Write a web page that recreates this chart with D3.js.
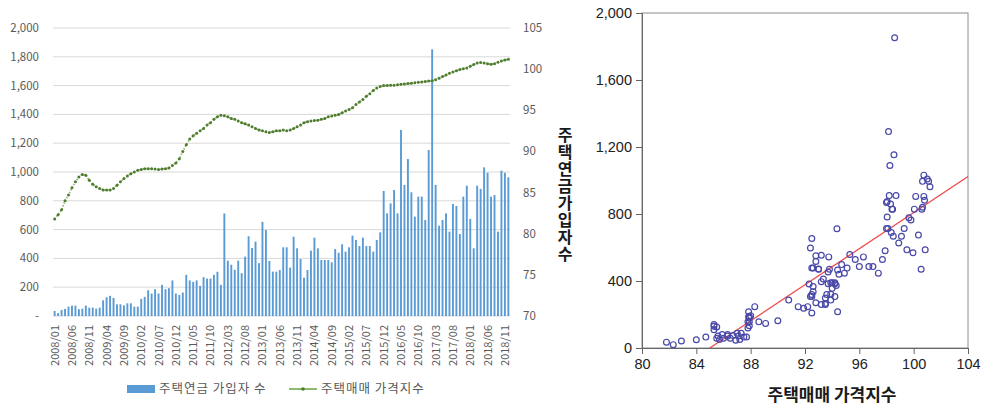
<!DOCTYPE html>
<html><head><meta charset="utf-8">
<script src="https://cdn.jsdelivr.net/npm/d3@7"></script>
<style>
html,body{margin:0;padding:0;background:#fff;}
svg{display:block;}
</style></head>
<body>
<svg id="chart" width="985" height="407"></svg>
<script>
// ---------- DATA ----------
const startYear = 2008;
const monthCount = 132;
const months = d3.range(monthCount).map(i => `${startYear + Math.floor(i / 12)}/${String(i % 12 + 1).padStart(2, "0")}`);
const tickLabels = ["2008/01","2008/06","2008/11","2009/04","2009/09","2010/02","2010/07","2010/12","2011/05","2011/10","2012/03","2012/08","2013/01","2013/06","2013/11","2014/04","2014/09","2015/02","2015/07","2015/12","2016/05","2016/10","2017/03","2017/08","2018/01","2018/06","2018/11"];

// 주택연금 가입자 수 (monthly)
const subscribers = [
  35, 20, 42, 49, 65, 72, 72, 47, 51, 72, 58, 58,
  51, 58, 109, 130, 140, 126, 81, 81, 74, 88, 88, 65,
  65, 119, 133, 179, 156, 186, 156, 216, 186, 193, 247, 156,
  147, 163, 286, 247, 237, 247, 209, 270, 260, 260, 286, 307,
  216, 712, 384, 356, 321, 384, 298, 412, 554, 472, 516, 367,
  654, 597, 382, 308, 308, 319, 477, 477, 336, 551, 470, 396,
  266, 319, 454, 544, 470, 389, 389, 389, 373, 465, 440, 498,
  447, 477, 558, 528, 486, 544, 486, 486, 447, 528, 581, 868,
  713, 782, 875, 713, 1292, 910, 1090, 859, 690, 829, 829, 667,
  1153, 1852, 910, 627, 667, 713, 586, 778, 764, 569, 829, 905,
  674, 470, 905, 882, 1032, 995, 829, 840, 586, 1009, 995, 963
];

// 주택매매 가격지수 (monthly)
const priceIndex = [
  81.8, 82.3, 82.9, 84.0, 84.7, 85.6, 86.3, 86.9, 87.2, 87.1, 86.5, 86.0,
  85.7, 85.5, 85.3, 85.3, 85.3, 85.5, 85.9, 86.3, 86.7, 87.0, 87.3, 87.5,
  87.7, 87.8, 87.9, 87.9, 87.9, 87.85, 87.8, 87.85, 87.9, 88.0, 88.3, 88.6,
  89.1, 90.0, 90.8, 91.5, 91.9, 92.2, 92.5, 92.8, 93.2, 93.5, 93.9, 94.2,
  94.4, 94.35, 94.2, 94.0, 93.9, 93.7, 93.5, 93.35, 93.2, 93.0, 92.8, 92.6,
  92.5, 92.4, 92.3, 92.4, 92.5, 92.5, 92.6, 92.5, 92.6, 92.8, 93.0, 93.2,
  93.5, 93.6, 93.7, 93.75, 93.8, 93.9, 94.0, 94.2, 94.3, 94.4, 94.5, 94.7,
  94.9, 95.1, 95.3, 95.7, 96.0, 96.3, 96.7, 97.0, 97.4, 97.7, 97.9, 98.0,
  98.0, 98.05, 98.05, 98.1, 98.15, 98.2, 98.25, 98.3, 98.35, 98.4, 98.45, 98.5,
  98.55, 98.6, 98.7, 98.9, 99.1, 99.3, 99.5, 99.65, 99.8, 99.95, 100.05, 100.15,
  100.35, 100.55, 100.75, 100.8, 100.75, 100.65, 100.6, 100.65, 100.85, 101.0, 101.1, 101.2
];

const leftTicks = [0, 200, 400, 600, 800, 1000, 1200, 1400, 1600, 1800, 2000];
const rightTicks = [70, 75, 80, 85, 90, 95, 100, 105];
const scatterXTicks = [80, 84, 88, 92, 96, 100, 104];
const scatterYTicks = [0, 400, 800, 1200, 1600, 2000];
const barLegend = "주택연금 가입자 수";
const lineLegend = "주택매매 가격지수";
const yTitle = "주택연금가입자수";
const xTitle = "주택매매 가격지수";

// ---------- DRAW ----------
const svg = d3.select("#chart");
const KR = "'Noto Sans CJK KR','Noto Sans',sans-serif";
const AR = "'Liberation Sans',Arial,sans-serif";
const comma = d3.format(",");

// Left combo chart
const L = {x0: 53, x1: 510, y0: 316, y1: 28};
const x = d3.scaleBand().domain(months).range([L.x0, L.x1]).paddingInner(0.45).paddingOuter(0.2);
const yL = d3.scaleLinear().domain([0, 2000]).range([L.y0, L.y1]);
const yR = d3.scaleLinear().domain([70, 105]).range([L.y0, L.y1]);

const gL = svg.append("g");
gL.append("g").selectAll("line").data(leftTicks).join("line")
  .attr("x1", L.x0).attr("x2", L.x1)
  .attr("y1", d => yL(d)).attr("y2", d => yL(d))
  .attr("stroke", "#d9d9d9").attr("stroke-width", 1);

gL.append("g").selectAll("text").data(leftTicks).join("text")
  .attr("x", 39).attr("y", d => yL(d)).attr("dy", "0.35em")
  .attr("text-anchor", "end")
  .attr("font-family", KR).attr("font-size", 11.5).attr("fill", "#595959")
  .text(d => d === 0 ? "-" : comma(d));

gL.append("g").selectAll("text").data(rightTicks).join("text")
  .attr("x", 523).attr("y", d => yR(d)).attr("dy", "0.35em")
  .attr("text-anchor", "start")
  .attr("font-family", KR).attr("font-size", 11.5).attr("fill", "#595959")
  .text(d => d);

gL.append("g").selectAll("rect").data(subscribers).join("rect")
  .attr("x", (d, i) => x(months[i]))
  .attr("width", x.bandwidth())
  .attr("y", d => yL(d))
  .attr("height", d => yL(0) - yL(d))
  .attr("fill", "#5b9bd5");

const lineGen = d3.line().x((d, i) => x(months[i]) + x.bandwidth() / 2).y(d => yR(d));
gL.append("path").datum(priceIndex)
  .attr("d", lineGen)
  .attr("fill", "none").attr("stroke", "#8fb56f").attr("stroke-width", 1.8)
  .attr("stroke-dasharray", "1.4,1.6");
gL.append("g").selectAll("circle").data(priceIndex).join("circle")
  .attr("cx", (d, i) => x(months[i]) + x.bandwidth() / 2)
  .attr("cy", d => yR(d))
  .attr("r", 1.5)
  .attr("fill", "#4f7d2f");

gL.append("g").selectAll("text").data(tickLabels).join("text")
  .attr("transform", d => `translate(${x(d) + x.bandwidth() / 2 + 4},${325}) rotate(-90)`)
  .attr("text-anchor", "end")
  .attr("font-family", KR).attr("font-size", 11).attr("fill", "#595959")
  .text(d => d);

// legend
const lg = svg.append("g");
lg.append("rect").attr("x", 127).attr("y", 385).attr("width", 28).attr("height", 8).attr("fill", "#5b9bd5");
lg.append("text").attr("x", 159).attr("y", 389).attr("dy", "0.35em")
  .style("letter-spacing", "1px")
  .attr("font-family", KR).attr("font-size", 12.5).attr("fill", "#595959").text(barLegend);
lg.append("line").attr("x1", 289).attr("x2", 317).attr("y1", 389).attr("y2", 389)
  .attr("stroke", "#70ad47").attr("stroke-width", 1.6);
lg.append("circle").attr("cx", 303).attr("cy", 389).attr("r", 1.8).attr("fill", "#4f7d2f");
lg.append("text").attr("x", 321).attr("y", 389).attr("dy", "0.35em")
  .style("letter-spacing", "1px")
  .attr("font-family", KR).attr("font-size", 12.5).attr("fill", "#595959").text(lineLegend);

// Middle vertical title (single text, vertical writing mode)
svg.append("text")
  .attr("x", 565).attr("y", 195)
  .attr("text-anchor", "middle")
  .style("writing-mode", "vertical-rl")
  .style("text-orientation", "upright")
  .style("letter-spacing", "1px")
  .attr("font-family", KR).attr("font-weight", "bold").attr("font-size", 16).attr("fill", "#1a1a1a")
  .text(yTitle);

// Scatter
const S = {x0: 642, x1: 968, y0: 348, y1: 13};
const xs = d3.scaleLinear().domain([80, 104]).range([S.x0, S.x1]);
const ys = d3.scaleLinear().domain([0, 2000]).range([S.y0, S.y1]);
const gS = svg.append("g");
gS.append("defs").append("clipPath").attr("id", "sclip")
  .append("rect").attr("x", S.x0).attr("y", S.y1).attr("width", S.x1 - S.x0).attr("height", S.y0 - S.y1);

gS.append("rect").attr("x", S.x0).attr("y", S.y1).attr("width", S.x1 - S.x0).attr("height", S.y0 - S.y1)
  .attr("fill", "none").attr("stroke", "#8c8c8c").attr("stroke-width", 1);

const yAxis = d3.axisLeft(ys).tickValues(scatterYTicks).tickSize(6).tickPadding(4).tickFormat(comma);
const xAxis = d3.axisBottom(xs).tickValues(scatterXTicks).tickSize(6).tickPadding(5);
const ya = gS.append("g").attr("transform", `translate(${S.x0},0)`).call(yAxis);
const xa = gS.append("g").attr("transform", `translate(0,${S.y0})`).call(xAxis);
[ya, xa].forEach(a => {
  a.select(".domain").attr("stroke", "#666");
  a.selectAll(".tick line").attr("stroke", "#666");
  a.selectAll("text").attr("font-family", AR).attr("font-size", 14.5).attr("fill", "#222");
});

const pts = priceIndex.map((p, i) => [p, subscribers[i]]);
const mx = d3.mean(pts, d => d[0]), my = d3.mean(pts, d => d[1]);
const slope = d3.sum(pts, d => (d[0] - mx) * (d[1] - my)) / d3.sum(pts, d => (d[0] - mx) ** 2);
const intercept = my - slope * mx;
const xStart = Math.max(80, -intercept / slope);
gS.append("line").attr("clip-path", "url(#sclip)")
  .attr("x1", xs(xStart)).attr("y1", ys(slope * xStart + intercept))
  .attr("x2", xs(104)).attr("y2", ys(slope * 104 + intercept))
  .attr("stroke", "#f04a4a").attr("stroke-width", 1.3);

gS.append("g").selectAll("circle").data(pts).join("circle")
  .attr("cx", d => xs(d[0])).attr("cy", d => ys(d[1])).attr("r", 2.9)
  .attr("fill", "none").attr("stroke", "#4848a8").attr("stroke-width", 1.2);

svg.append("text").attr("x", 832).attr("y", 395).attr("dy", "0.35em")
  .attr("text-anchor", "middle")
  .attr("font-family", KR).attr("font-weight", "bold").attr("font-size", 17).attr("fill", "#1a1a1a")
  .text(xTitle);
</script>
</body></html>
